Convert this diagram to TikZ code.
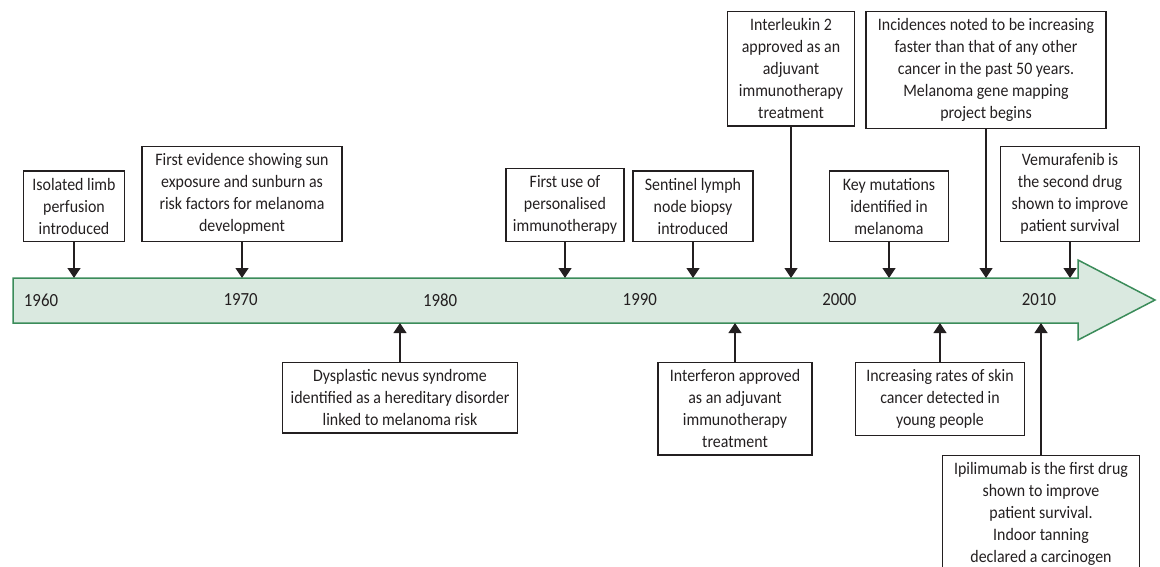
\documentclass[tikz,border=0pt]{standalone}
\usepackage{fontspec}
\setmainfont{Carlito}[FakeStretch=0.91]
\usetikzlibrary{positioning}
\usetikzlibrary{arrows.meta}
\definecolor{bandfill}{HTML}{DAE9E0}
\definecolor{bandline}{HTML}{3B8C5A}
\definecolor{ink}{HTML}{231F20}

\begin{document}
\begin{tikzpicture}[x=1pt, y=-1pt,
  event/.style={draw=ink, line width=1.3pt, align=center, inner xsep=4pt, inner ysep=7pt, font=\fontsize{17.5}{22}\selectfont, text=ink},
  pointer/.style={draw=ink, line width=1.3pt, -{Triangle[length=10pt,width=13pt]}},
  year/.style={font=\fontsize{18.5}{20}\selectfont, text=ink}]

\useasboundingbox (0,0) rectangle (1160,566);

% timeline band
\draw[fill=bandfill, draw=bandline, line width=1.5pt] (13,278)--(1078,278)--(1078,260)--(1155,300)--(1078,340)--(1078,323)--(13,323)--cycle;
\coordinate (bandtop) at (13,278);
\coordinate (bandbot) at (13,323);

% years
\node[year] (y1960) at (41,300) {1960};
\node[year] (y1970) at (240.6,300) {1970};
\node[year] (y1980) at (440.2,300) {1980};
\node[year] (y1990) at (639.8,300) {1990};
\node[year] (y2000) at (839.4,300) {2000};
\node[year] (y2010) at (1039,300) {2010};

% events above the band
\node[event, anchor=south, minimum width=101pt] (limb) at (74,242) {Isolated limb\\perfusion\\introduced};
\node[event, anchor=south, minimum width=200pt] (sun) at (242,242) {First evidence showing sun\\exposure and sunburn as\\risk factors for melanoma\\development};
\node[event, anchor=south, minimum width=118pt] (personal) at (565,242) {First use of\\personalised\\immunotherapy};
\node[event, anchor=south, minimum width=120pt] (sentinel) at (693,242) {Sentinel lymph\\node biopsy\\introduced};
\node[event, anchor=north, minimum width=127pt] (interleukin) at (791,11) {Interleukin 2\\approved as an\\adjuvant\\immunotherapy\\treatment};
\node[event, anchor=south, minimum width=119pt] (mutations) at (889,242) {Key mutations\\identified in\\melanoma};
\node[event, anchor=north, minimum width=240pt] (incidence) at (986,11) {Incidences noted to be increasing\\faster than that of any other\\cancer in the past 50 years.\\Melanoma gene mapping\\project begins};
\node[event, anchor=south, minimum width=139pt] (vemurafenib) at (1070,242) {Vemurafenib is\\the second drug\\shown to improve\\patient survival};

% events below the band
\node[event, anchor=north, minimum width=235pt] (nevus) at (400,362) {Dysplastic nevus syndrome\\identified as a hereditary disorder\\linked to melanoma risk};
\node[event, anchor=north, minimum width=154pt] (interferon) at (735,362) {Interferon approved\\as an adjuvant\\immunotherapy\\treatment};
\node[event, anchor=north, minimum width=169pt] (skin) at (940,362) {Increasing rates of skin\\cancer detected in\\young people};
\node[event, anchor=north, minimum width=197pt] (ipilimumab) at (1041,455) {Ipilimumab is the first drug\\shown to improve\\patient survival.\\Indoor tanning\\declared a carcinogen};

% pointers
\draw[pointer] (limb) -- (limb |- bandtop);
\draw[pointer] (sun) -- (sun |- bandtop);
\draw[pointer] (personal) -- (personal |- bandtop);
\draw[pointer] (sentinel) -- (sentinel |- bandtop);
\draw[pointer] (interleukin) -- (interleukin |- bandtop);
\draw[pointer] (mutations) -- (mutations |- bandtop);
\draw[pointer] (incidence) -- (incidence |- bandtop);
\draw[pointer] (vemurafenib) -- (vemurafenib |- bandtop);

\draw[pointer] (nevus) -- (nevus |- bandbot);
\draw[pointer] (interferon) -- (interferon |- bandbot);
\draw[pointer] (skin) -- (skin |- bandbot);
\draw[pointer] (ipilimumab) -- (ipilimumab |- bandbot);

\end{tikzpicture}
\end{document}
